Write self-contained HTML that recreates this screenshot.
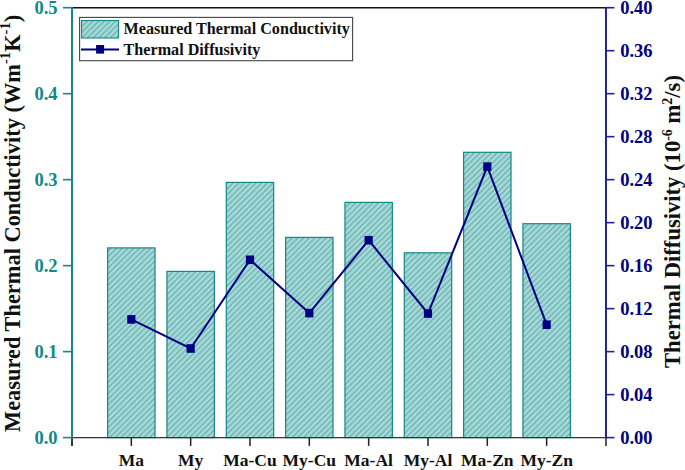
<!DOCTYPE html><html><head><meta charset="utf-8"><style>html,body{margin:0;padding:0;background:#fff;overflow:hidden}svg{display:block}text{font-family:"Liberation Serif",serif;font-weight:bold}</style></head><body>
<svg width="685" height="470" viewBox="0 0 685 470">
<defs>
<pattern id="h" patternUnits="userSpaceOnUse" width="5.7" height="5.7" patternTransform="translate(0,0)"><rect width="5.7" height="5.7" fill="#a8d8d7"/><path d="M-1,6.7 L6.7,-1 M-1,1 L1,-1 M4.7,6.7 L6.7,4.7" stroke="#4fa8a6" stroke-width="1"/></pattern>
</defs>
<rect x="107.63" y="247.90" width="47.4" height="189.70" fill="url(#h)" stroke="#138886" stroke-width="1.2"/>
<rect x="166.96" y="271.40" width="47.4" height="166.20" fill="url(#h)" stroke="#138886" stroke-width="1.2"/>
<rect x="226.29" y="182.40" width="47.4" height="255.20" fill="url(#h)" stroke="#138886" stroke-width="1.2"/>
<rect x="285.62" y="237.40" width="47.4" height="200.20" fill="url(#h)" stroke="#138886" stroke-width="1.2"/>
<rect x="344.95" y="202.40" width="47.4" height="235.20" fill="url(#h)" stroke="#138886" stroke-width="1.2"/>
<rect x="404.28" y="252.80" width="47.4" height="184.80" fill="url(#h)" stroke="#138886" stroke-width="1.2"/>
<rect x="463.61" y="152.30" width="47.4" height="285.30" fill="url(#h)" stroke="#138886" stroke-width="1.2"/>
<rect x="522.94" y="223.70" width="47.4" height="213.90" fill="url(#h)" stroke="#138886" stroke-width="1.2"/>
<line x1="72.0" y1="7.7" x2="605.97" y2="7.7" stroke="#111" stroke-width="1.6"/>
<line x1="72.0" y1="437.6" x2="605.97" y2="437.6" stroke="#333" stroke-width="1.4"/>
<line x1="131.33" y1="437.6" x2="131.33" y2="445.90000000000003" stroke="#222" stroke-width="1.5"/>
<line x1="190.66" y1="437.6" x2="190.66" y2="445.90000000000003" stroke="#222" stroke-width="1.5"/>
<line x1="249.99" y1="437.6" x2="249.99" y2="445.90000000000003" stroke="#222" stroke-width="1.5"/>
<line x1="309.32" y1="437.6" x2="309.32" y2="445.90000000000003" stroke="#222" stroke-width="1.5"/>
<line x1="368.65" y1="437.6" x2="368.65" y2="445.90000000000003" stroke="#222" stroke-width="1.5"/>
<line x1="427.98" y1="437.6" x2="427.98" y2="445.90000000000003" stroke="#222" stroke-width="1.5"/>
<line x1="487.31" y1="437.6" x2="487.31" y2="445.90000000000003" stroke="#222" stroke-width="1.5"/>
<line x1="546.64" y1="437.6" x2="546.64" y2="445.90000000000003" stroke="#222" stroke-width="1.5"/>
<line x1="72.0" y1="437.6" x2="72.0" y2="445.90000000000003" stroke="#222" stroke-width="1.8"/>
<line x1="605.97" y1="437.6" x2="605.97" y2="445.90000000000003" stroke="#222" stroke-width="1.5"/>
<text x="131.33" y="466.3" font-size="17.5" text-anchor="middle" fill="#111">Ma</text>
<text x="190.66" y="466.3" font-size="17.5" text-anchor="middle" fill="#111">My</text>
<text x="249.99" y="466.3" font-size="17.5" text-anchor="middle" fill="#111">Ma-Cu</text>
<text x="309.32" y="466.3" font-size="17.5" text-anchor="middle" fill="#111">My-Cu</text>
<text x="368.65" y="466.3" font-size="17.5" text-anchor="middle" fill="#111">Ma-Al</text>
<text x="427.98" y="466.3" font-size="17.5" text-anchor="middle" fill="#111">My-Al</text>
<text x="487.31" y="466.3" font-size="17.5" text-anchor="middle" fill="#111">Ma-Zn</text>
<text x="546.64" y="466.3" font-size="17.5" text-anchor="middle" fill="#111">My-Zn</text>
<line x1="72.0" y1="6.9" x2="72.0" y2="438.3" stroke="#138886" stroke-width="2"/>
<line x1="63" y1="437.60" x2="72.0" y2="437.60" stroke="#138886" stroke-width="1.6"/>
<text x="57.6" y="443.90" font-size="18.5" text-anchor="end" fill="#138886">0.0</text>
<line x1="63" y1="351.62" x2="72.0" y2="351.62" stroke="#138886" stroke-width="1.6"/>
<text x="57.6" y="357.92" font-size="18.5" text-anchor="end" fill="#138886">0.1</text>
<line x1="63" y1="265.64" x2="72.0" y2="265.64" stroke="#138886" stroke-width="1.6"/>
<text x="57.6" y="271.94" font-size="18.5" text-anchor="end" fill="#138886">0.2</text>
<line x1="63" y1="179.66" x2="72.0" y2="179.66" stroke="#138886" stroke-width="1.6"/>
<text x="57.6" y="185.96" font-size="18.5" text-anchor="end" fill="#138886">0.3</text>
<line x1="63" y1="93.68" x2="72.0" y2="93.68" stroke="#138886" stroke-width="1.6"/>
<text x="57.6" y="99.98" font-size="18.5" text-anchor="end" fill="#138886">0.4</text>
<line x1="63" y1="7.70" x2="72.0" y2="7.70" stroke="#138886" stroke-width="1.6"/>
<text x="57.6" y="14.00" font-size="18.5" text-anchor="end" fill="#138886">0.5</text>
<line x1="605.97" y1="6.9" x2="605.97" y2="438.3" stroke="#23238f" stroke-width="2"/>
<line x1="605.97" y1="437.60" x2="614.47" y2="437.60" stroke="#23238f" stroke-width="1.6"/>
<text x="620.2" y="443.90" font-size="18.5" fill="#000080">0.00</text>
<line x1="605.97" y1="394.61" x2="614.47" y2="394.61" stroke="#23238f" stroke-width="1.6"/>
<text x="620.2" y="400.91" font-size="18.5" fill="#000080">0.04</text>
<line x1="605.97" y1="351.62" x2="614.47" y2="351.62" stroke="#23238f" stroke-width="1.6"/>
<text x="620.2" y="357.92" font-size="18.5" fill="#000080">0.08</text>
<line x1="605.97" y1="308.63" x2="614.47" y2="308.63" stroke="#23238f" stroke-width="1.6"/>
<text x="620.2" y="314.93" font-size="18.5" fill="#000080">0.12</text>
<line x1="605.97" y1="265.64" x2="614.47" y2="265.64" stroke="#23238f" stroke-width="1.6"/>
<text x="620.2" y="271.94" font-size="18.5" fill="#000080">0.16</text>
<line x1="605.97" y1="222.65" x2="614.47" y2="222.65" stroke="#23238f" stroke-width="1.6"/>
<text x="620.2" y="228.95" font-size="18.5" fill="#000080">0.20</text>
<line x1="605.97" y1="179.66" x2="614.47" y2="179.66" stroke="#23238f" stroke-width="1.6"/>
<text x="620.2" y="185.96" font-size="18.5" fill="#000080">0.24</text>
<line x1="605.97" y1="136.67" x2="614.47" y2="136.67" stroke="#23238f" stroke-width="1.6"/>
<text x="620.2" y="142.97" font-size="18.5" fill="#000080">0.28</text>
<line x1="605.97" y1="93.68" x2="614.47" y2="93.68" stroke="#23238f" stroke-width="1.6"/>
<text x="620.2" y="99.98" font-size="18.5" fill="#000080">0.32</text>
<line x1="605.97" y1="50.69" x2="614.47" y2="50.69" stroke="#23238f" stroke-width="1.6"/>
<text x="620.2" y="56.99" font-size="18.5" fill="#000080">0.36</text>
<line x1="605.97" y1="7.70" x2="614.47" y2="7.70" stroke="#23238f" stroke-width="1.6"/>
<text x="620.2" y="14.00" font-size="18.5" fill="#000080">0.40</text>
<polyline points="131.33,319.40 190.66,348.50 249.99,259.80 309.32,313.10 368.65,240.20 427.98,313.50 487.31,166.60 546.64,324.70" fill="none" stroke="#000080" stroke-width="2.0" stroke-linejoin="miter"/>
<rect x="127.23" y="315.10" width="8.2" height="8.6" fill="#000080"/>
<rect x="186.56" y="344.20" width="8.2" height="8.6" fill="#000080"/>
<rect x="245.89" y="255.50" width="8.2" height="8.6" fill="#000080"/>
<rect x="305.22" y="308.80" width="8.2" height="8.6" fill="#000080"/>
<rect x="364.55" y="235.90" width="8.2" height="8.6" fill="#000080"/>
<rect x="423.88" y="309.20" width="8.2" height="8.6" fill="#000080"/>
<rect x="483.21" y="162.30" width="8.2" height="8.6" fill="#000080"/>
<rect x="542.54" y="320.40" width="8.2" height="8.6" fill="#000080"/>
<rect x="79.6" y="17.4" width="273" height="43.3" fill="#fff" stroke="#444" stroke-width="1.1"/>
<rect x="81.5" y="20.5" width="37" height="17.5" fill="url(#h)" stroke="#138886" stroke-width="1.1"/>
<line x1="81" y1="49.4" x2="119" y2="49.4" stroke="#000080" stroke-width="2"/>
<rect x="96.1" y="45.0" width="8" height="8.6" fill="#000080"/>
<text x="123.6" y="34" font-size="16.15" fill="#111">Measured Thermal Conductivity</text>
<text x="123.6" y="54.7" font-size="16.15" fill="#111">Thermal Diffusivity</text>
<text transform="translate(20.2,432) rotate(-90)" font-size="22.4" fill="#111">Measured Thermal Conductivity (Wm<tspan font-size="14.6" dy="-10">-1</tspan><tspan dy="10">K</tspan><tspan font-size="14.6" dy="-10">-1</tspan><tspan dy="10">)</tspan></text>
<text transform="translate(679.6,368) rotate(-90)" font-size="22.6" fill="#111">Thermal Diffusivity (10<tspan font-size="14" dy="-8">-6</tspan><tspan dy="8"> m</tspan><tspan font-size="14" dy="-8">2</tspan><tspan dy="8">/s)</tspan></text>
</svg></body></html>
